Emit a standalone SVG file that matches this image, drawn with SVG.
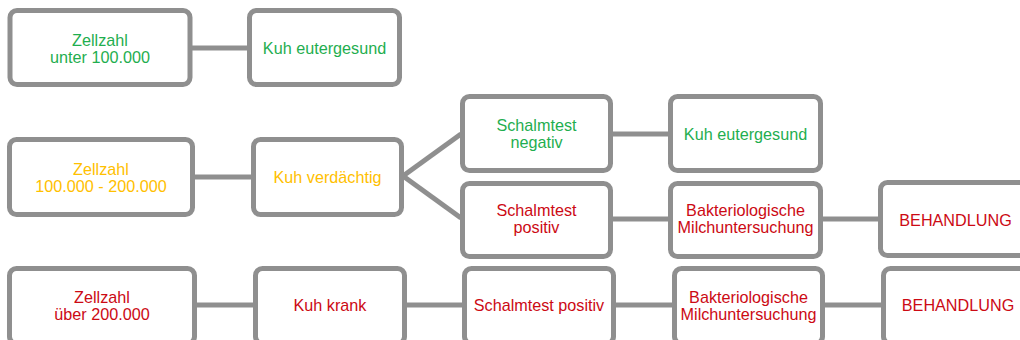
<svg xmlns="http://www.w3.org/2000/svg" width="1020" height="340" viewBox="0 0 1020 340">
<style>
.box{fill:#fff;stroke:#8f8f8f;stroke-width:5}
.ln{stroke:#8f8f8f;stroke-width:5;fill:none}
text{font-family:"Liberation Sans",Arial,sans-serif;font-size:16.2px;text-anchor:middle}
.g{fill:#1fae4f}.y{fill:#ffc000}.r{fill:#cc0a14}
</style>
<rect width="1020" height="340" fill="#fff"/>
<g id="connectors">
<line class="ln" x1="192" y1="48" x2="247" y2="48"/>
<line class="ln" x1="195" y1="177" x2="251" y2="177"/>
<line class="ln" x1="403" y1="176" x2="461" y2="134"/>
<line class="ln" x1="403" y1="176" x2="461" y2="218"/>
<line class="ln" x1="613" y1="134" x2="668" y2="134"/>
<line class="ln" x1="613" y1="219" x2="668" y2="219"/>
<line class="ln" x1="823" y1="219" x2="878" y2="219"/>
<line class="ln" x1="197" y1="305" x2="253" y2="305"/>
<line class="ln" x1="407" y1="305" x2="462" y2="305"/>
<line class="ln" x1="616" y1="305" x2="672" y2="305"/>
<line class="ln" x1="825" y1="305" x2="881" y2="305"/>
</g>
<g id="n1"><rect class="box" x="10" y="10.5" width="180" height="74" rx="7"/><text class="g" x="100" y="45.5">Zellzahl</text><text class="g" x="100" y="62.5">unter 100.000</text></g>
<g id="n2"><rect class="box" x="249.5" y="10.5" width="150" height="74" rx="7"/><text class="g" x="324.5" y="53.5">Kuh eutergesund</text></g>
<g id="n3"><rect class="box" x="9.5" y="139.5" width="183" height="75" rx="7"/><text class="y" x="101" y="174.5">Zellzahl</text><text class="y" x="101" y="191.5">100.000 - 200.000</text></g>
<g id="n4"><rect class="box" x="253.5" y="139.5" width="148" height="75" rx="7"/><text class="y" x="327.5" y="182.5">Kuh verdächtig</text></g>
<g id="n5"><rect class="box" x="462.5" y="96.5" width="148" height="74" rx="7"/><text class="g" x="536.5" y="130.5">Schalmtest</text><text class="g" x="536.5" y="147.5">negativ</text></g>
<g id="n6"><rect class="box" x="670.5" y="96.5" width="150" height="74" rx="7"/><text class="g" x="745.5" y="139.5">Kuh eutergesund</text></g>
<g id="n7"><rect class="box" x="462.5" y="183.5" width="148" height="73" rx="7"/><text class="r" x="536.5" y="215.5">Schalmtest</text><text class="r" x="536.5" y="232.5">positiv</text></g>
<g id="n8"><rect class="box" x="670.5" y="183.5" width="150" height="73" rx="7"/><text class="r" x="745.5" y="215.5">Bakteriologische</text><text class="r" x="745.5" y="232.5">Milchuntersuchung</text></g>
<g id="n9"><rect class="box" x="880.5" y="182.5" width="150" height="73" rx="7"/><text class="r" x="955.5" y="225.5">BEHANDLUNG</text></g>
<g id="n10"><rect class="box" x="9.5" y="268.5" width="185" height="75" rx="7"/><text class="r" x="102" y="302.5">Zellzahl</text><text class="r" x="102" y="319.5">über 200.000</text></g>
<g id="n11"><rect class="box" x="255.5" y="268.5" width="149" height="75" rx="7"/><text class="r" x="330" y="310.5">Kuh krank</text></g>
<g id="n12"><rect class="box" x="464.5" y="268.5" width="149" height="75" rx="7"/><text class="r" x="539" y="310.5">Schalmtest positiv</text></g>
<g id="n13"><rect class="box" x="674.5" y="268.5" width="148" height="75" rx="7"/><text class="r" x="748.5" y="302.5">Bakteriologische</text><text class="r" x="748.5" y="319.5">Milchuntersuchung</text></g>
<g id="n14"><rect class="box" x="883.5" y="268.5" width="150" height="75" rx="7"/><text class="r" x="958" y="310.5">BEHANDLUNG</text></g>
</svg>
